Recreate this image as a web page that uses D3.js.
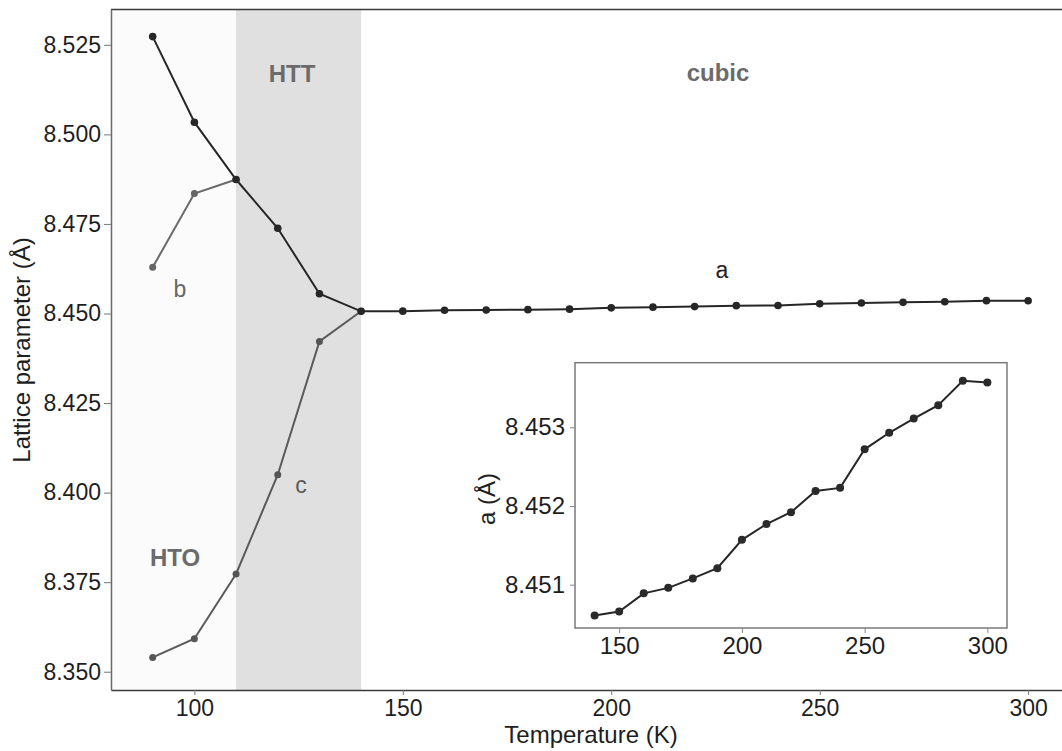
<!DOCTYPE html>
<html>
<head>
<meta charset="utf-8">
<script src="https://d3js.org/d3.v7.min.js"></script>
<style>
  body { margin: 0; background: #fff; }
  svg { display: block; font-family: "Liberation Sans", Arial, sans-serif; }
</style>
</head>
<body>
<script>
// data
var tempLow = [90, 100, 110, 120, 130, 140];
var aLow = [8.5273, 8.5034, 8.4874, 8.4738, 8.4555, 8.45061];
var tempB = [90, 100, 110];
var bLow = [8.4629, 8.4835, 8.4874];
var cLow = [8.3540, 8.3592, 8.3773, 8.4050, 8.4422, 8.45061];

var tempCubic = [140, 150, 160, 170, 180, 190, 200, 210, 220, 230, 240, 250, 260, 270, 280, 290, 300];
var aCubic = [8.45061, 8.45066, 8.45089, 8.45096, 8.45108, 8.45121, 8.45157, 8.45177, 8.45192,
  8.45219, 8.45223, 8.45272, 8.45293, 8.45311, 8.45328, 8.45359, 8.45357];

var phases = [
  { name: "HTO", from: 80, to: 110, fill: "#fbfbfb" },
  { name: "HTT", from: 110, to: 140, fill: "#e0e0e0" }
];

var mainXTicks = [100, 150, 200, 250, 300];
var mainYTicks = [8.350, 8.375, 8.400, 8.425, 8.450, 8.475, 8.500, 8.525];
var insetXTicks = [150, 200, 250, 300];
var insetYTicks = [8.451, 8.452, 8.453];

var svgWidth = 1062;
var svgHeight = 751;

var svg = d3.select("body")
  .append("svg")
  .attr("width", svgWidth)
  .attr("height", svgHeight);

var panel = { left: 111, top: 9, bottom: 690 };

// main scales (right edge runs past the picture)
var x = d3.scaleLinear().domain([80, 310.5]).range([111, 1071.9]);
var y = d3.scaleLinear().domain([8.3449, 8.535]).range([690, 9]);

// phase bands
svg.selectAll("rect.phase")
  .data(phases)
  .enter()
  .append("rect")
  .attr("class", "phase")
  .attr("x", d => x(d.from))
  .attr("width", d => x(d.to) - x(d.from))
  .attr("y", panel.top)
  .attr("height", panel.bottom - panel.top)
  .attr("fill", d => d.fill);

// top border
svg.append("line")
  .attr("x1", panel.left).attr("x2", svgWidth)
  .attr("y1", panel.top + 0.5).attr("y2", panel.top + 0.5)
  .attr("stroke", "#3a3a3a").attr("stroke-width", 1.5);

// axes
var xAxis = svg.append("g")
  .attr("transform", `translate(0, ${panel.bottom})`)
  .call(d3.axisBottom(x).tickValues(mainXTicks).tickSize(5).tickPadding(5).tickSizeOuter(0));

var yAxis = svg.append("g")
  .attr("transform", `translate(${panel.left}, 0)`)
  .call(d3.axisLeft(y).tickValues(mainYTicks).tickFormat(d3.format(".3f")).tickSize(7).tickPadding(3).tickSizeOuter(0));

xAxis.select(".domain").attr("stroke", "#3a3a3a").attr("stroke-width", 1.5);
yAxis.select(".domain").attr("stroke", "#6a6a6a").attr("stroke-width", 1.5);
svg.selectAll(".tick line").attr("stroke", "#777");
svg.selectAll(".tick text").attr("font-size", 23).attr("fill", "#1e1e1e")
  .attr("font-family", "'Liberation Sans', Arial, sans-serif");

svg.append("text")
  .attr("x", 591).attr("y", 743)
  .attr("text-anchor", "middle")
  .attr("font-size", 24).attr("fill", "#1e1e1e")
  .text("Temperature (K)");

svg.append("text")
  .attr("transform", "translate(30, 350) rotate(-90)")
  .attr("text-anchor", "middle")
  .attr("font-size", 24).attr("fill", "#1e1e1e")
  .text("Lattice parameter (Å)");

// series
var line = d3.line().x(d => x(d[0])).y(d => y(d[1]));
var cData = d3.zip(tempLow, cLow);
var bData = d3.zip(tempB, bLow);
var aData = d3.zip(tempLow, aLow).concat(d3.zip(tempCubic, aCubic).slice(1));

svg.append("path").datum(cData).attr("d", line)
  .attr("fill", "none").attr("stroke", "#5a5a5a").attr("stroke-width", 2);
svg.append("path").datum(bData).attr("d", line)
  .attr("fill", "none").attr("stroke", "#6a6a6a").attr("stroke-width", 2);
svg.append("path").datum(aData).attr("d", line)
  .attr("fill", "none").attr("stroke", "#262626").attr("stroke-width", 2);

svg.selectAll("circle.c").data(cData).enter().append("circle")
  .attr("cx", d => x(d[0])).attr("cy", d => y(d[1])).attr("r", 3.5).attr("fill", "#555");
svg.selectAll("circle.b").data(bData).enter().append("circle")
  .attr("cx", d => x(d[0])).attr("cy", d => y(d[1])).attr("r", 3.5).attr("fill", "#666");
svg.selectAll("circle.a").data(aData).enter().append("circle")
  .attr("cx", d => x(d[0])).attr("cy", d => y(d[1])).attr("r", 3.8).attr("fill", "#262626");

// labels
var phaseLabels = [
  { t: "HTT", x: 292, y: 82 },
  { t: "cubic", x: 718, y: 81 },
  { t: "HTO", x: 175, y: 566 }
];
svg.selectAll("text.phaselab").data(phaseLabels).enter().append("text")
  .attr("x", d => d.x).attr("y", d => d.y)
  .attr("text-anchor", "middle")
  .attr("font-size", 24).attr("font-weight", "bold").attr("fill", "#6b6b6b")
  .text(d => d.t);

var seriesLabels = [
  { t: "a", x: 722, y: 278, c: "#222" },
  { t: "b", x: 180, y: 297, c: "#666" },
  { t: "c", x: 301, y: 493, c: "#5a5a5a" }
];
svg.selectAll("text.serlab").data(seriesLabels).enter().append("text")
  .attr("x", d => d.x).attr("y", d => d.y)
  .attr("text-anchor", "middle")
  .attr("font-size", 23).attr("fill", d => d.c)
  .text(d => d.t);

// inset
var inset = { left: 575, right: 1007, top: 362.7, bottom: 628 };
var ix = d3.scaleLinear().domain([132, 308]).range([inset.left, inset.right]);
var iy = d3.scaleLinear().domain([8.45045, 8.45382]).range([inset.bottom, inset.top]);

var insetGroup = svg.append("g");

insetGroup.append("rect")
  .attr("x", inset.left).attr("y", inset.top)
  .attr("width", inset.right - inset.left).attr("height", inset.bottom - inset.top)
  .attr("fill", "#fff").attr("stroke", "#7a7a7a").attr("stroke-width", 1.5);

var ixAxis = insetGroup.append("g")
  .attr("transform", `translate(0, ${inset.bottom})`)
  .call(d3.axisBottom(ix).tickValues(insetXTicks).tickSize(5).tickPadding(4).tickSizeOuter(0));
var iyAxis = insetGroup.append("g")
  .attr("transform", `translate(${inset.left}, 0)`)
  .call(d3.axisLeft(iy).tickValues(insetYTicks).tickFormat(d3.format(".3f")).tickSize(5).tickPadding(5).tickSizeOuter(0));

insetGroup.selectAll(".domain").remove();
insetGroup.selectAll(".tick line").attr("stroke", "#888");
insetGroup.selectAll(".tick text").attr("font-size", 24).attr("fill", "#1e1e1e")
  .attr("font-family", "'Liberation Sans', Arial, sans-serif");

insetGroup.append("text")
  .attr("transform", "translate(495, 499) rotate(-90)")
  .attr("text-anchor", "middle")
  .attr("font-size", 24).attr("fill", "#1e1e1e")
  .text("a (Å)");

var insetData = d3.zip(tempCubic, aCubic);
var iline = d3.line().x(d => ix(d[0])).y(d => iy(d[1]));
insetGroup.append("path").datum(insetData).attr("d", iline)
  .attr("fill", "none").attr("stroke", "#262626").attr("stroke-width", 2);
insetGroup.selectAll("circle").data(insetData).enter().append("circle")
  .attr("cx", d => ix(d[0])).attr("cy", d => iy(d[1])).attr("r", 4).attr("fill", "#2a2a2a");
</script>
</body>
</html>
